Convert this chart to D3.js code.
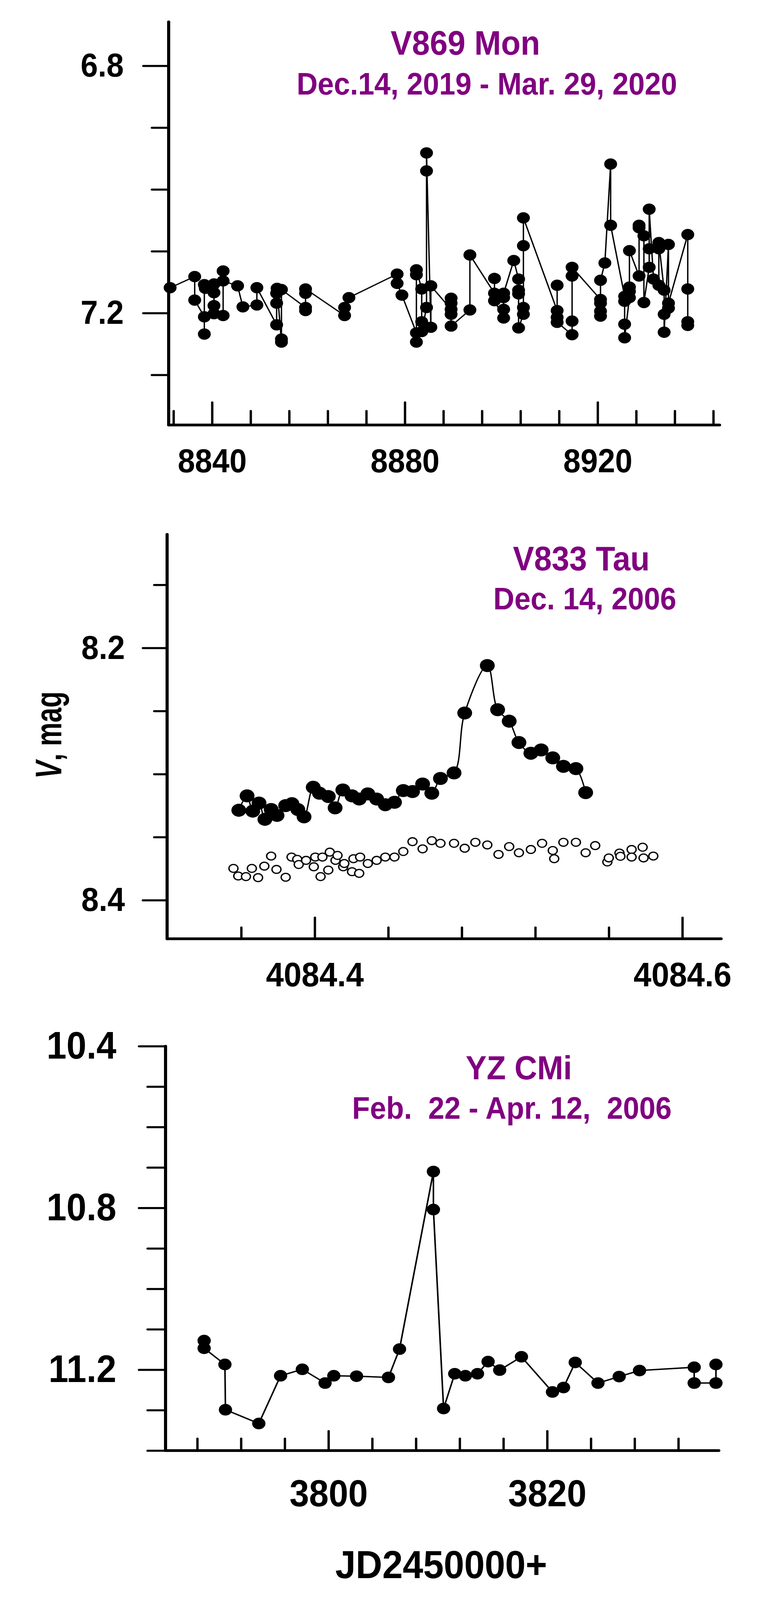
<!DOCTYPE html>
<html lang="en">
<head>
<meta charset="utf-8">
<title>V869 Mon, V833 Tau, YZ CMi light curves</title>
<style>
body{
  margin: 0;
  background: #fff;
  overflow: hidden;
}

svg{
  display: block;
}

text{
  font-family: "Liberation Sans", Arial, sans-serif;
  font-weight: bold;
}

.axis path{
  display: none;
}

.axis line{
  stroke: #000;
  stroke-width: 6;
  stroke-linecap: round;
}

.axis text{
  fill: #000;
}

.spine{
  stroke: #000;
  stroke-width: 8;
  stroke-linecap: round;
}

.title{
  fill: #800080;
  text-anchor: middle;
  white-space: pre;
}
</style>
<script src="https://d3js.org/d3.v7.min.js"></script>
</head>
<body>
<div id="chart"></div>

<script>
/* ---- V869 Mon, JD 2450000+ and V magnitude ---- */
var monDay = [8831.3, 8836.4, 8836.4, 8838.4, 8838.4, 8838.4, 8838.6, 8840.4, 8840.4, 8840.4,
  8840.4, 8842.3, 8842.3, 8842.3, 8845.3, 8846.4, 8849.3, 8849.3, 8853.4, 8853.4,
  8853.4, 8853.5, 8854.4, 8854.4, 8854.4, 8859.4, 8859.4, 8859.4, 8859.4, 8867.5,
  8867.5, 8868.4, 8878.4, 8878.4, 8879.4, 8882.4, 8882.4, 8882.4, 8882.4, 8883.5,
  8883.5, 8883.5, 8884.5, 8884.5, 8884.5, 8885.4, 8885.4, 8889.6, 8889.6, 8889.6,
  8889.6, 8889.6, 8893.5, 8893.5, 8898.6, 8898.6, 8898.6, 8900.5, 8900.5, 8900.5,
  8900.5, 8902.6, 8903.6, 8903.6, 8903.6, 8903.6, 8904.6, 8904.6, 8904.6, 8904.6,
  8911.6, 8911.6, 8911.6, 8911.6, 8914.7, 8914.7, 8914.7, 8914.7, 8920.6, 8920.6,
  8920.6, 8920.6, 8920.6, 8921.5, 8922.7, 8922.7, 8925.6, 8925.6, 8925.6, 8925.6,
  8926.6, 8926.6, 8926.6, 8926.6, 8928.6, 8928.6, 8928.6, 8929.6, 8929.6, 8930.7,
  8930.7, 8930.7, 8931.6, 8932.7, 8932.7, 8932.7, 8933.8, 8933.8, 8933.8, 8934.7,
  8934.7, 8934.7, 8938.7, 8938.7, 8938.7, 8938.7];
var monMag = [7.159, 7.141, 7.179, 7.206, 7.234, 7.154, 7.160, 7.153, 7.167, 7.188,
  7.201, 7.204, 7.132, 7.148, 7.156, 7.190, 7.187, 7.159, 7.219, 7.184,
  7.168, 7.160, 7.247, 7.242, 7.162, 7.191, 7.196, 7.168, 7.161, 7.204,
  7.191, 7.175, 7.137, 7.152, 7.171, 7.232, 7.247, 7.138, 7.130, 7.161,
  7.214, 7.230, 7.191, 6.970, 6.941, 7.223, 7.156, 7.194, 7.176, 7.184,
  7.202, 7.221, 7.195, 7.106, 7.168, 7.144, 7.180, 7.208, 7.194, 7.175,
  7.168, 7.115, 7.145, 7.163, 7.169, 7.224, 7.202, 7.191, 7.091, 7.046,
  7.196, 7.155, 7.207, 7.215, 7.235, 7.213, 7.140, 7.126, 7.178, 7.205,
  7.197, 7.184, 7.147, 7.119, 6.959, 7.058, 7.173, 7.181, 7.218, 7.240,
  7.175, 7.165, 7.158, 7.099, 7.140, 7.062, 7.058, 7.075, 7.183, 7.126,
  7.096, 7.032, 7.145, 7.155, 7.096, 7.086, 7.163, 7.202, 7.231, 7.089,
  7.192, 7.184, 7.073, 7.161, 7.214, 7.220];

/* ---- V833 Tau, flare star (filled) and comparison (open) ---- */
var tauTime = [4084.3587, 4084.3632, 4084.3663, 4084.3697, 4084.3729, 4084.3763, 4084.3795, 4084.3842,
  4084.3876, 4084.3908, 4084.3942, 4084.3992, 4084.4026, 4084.4074, 4084.4111, 4084.4153,
  4084.4203, 4084.4242, 4084.4289, 4084.4337, 4084.4384, 4084.4434, 4084.4482, 4084.4532,
  4084.4587, 4084.4637, 4084.4684, 4084.4758, 4084.4816, 4084.4939, 4084.4995, 4084.5058,
  4084.5111, 4084.5176, 4084.5232, 4084.5295, 4084.5353, 4084.5421, 4084.5474];
var tauMag = [8.3287, 8.3173, 8.3294, 8.3230, 8.3359, 8.3281, 8.3328, 8.3250,
  8.3235, 8.3281, 8.3339, 8.3105, 8.3152, 8.3178, 8.3268, 8.3126,
  8.3173, 8.3198, 8.3157, 8.3198, 8.3243, 8.3224, 8.3131, 8.3139,
  8.3079, 8.3152, 8.3035, 8.2991, 8.2516, 8.2140, 8.2490, 8.2581,
  8.2750, 8.2835, 8.2809, 8.2872, 8.2939, 8.2957, 8.3147];
var tauCompTime = [4084.3558, 4084.3584, 4084.3626, 4084.3658, 4084.3692, 4084.3726, 4084.3763, 4084.3792,
  4084.3842, 4084.3874, 4084.3905, 4084.3913, 4084.3953, 4084.3995, 4084.4003, 4084.4032,
  4084.4042, 4084.4074, 4084.4082, 4084.4113, 4084.4124, 4084.4155, 4084.4161, 4084.4203,
  4084.4211, 4084.4242, 4084.4247, 4084.4289, 4084.4337, 4084.4384, 4084.4434, 4084.4482,
  4084.4532, 4084.4587, 4084.4637, 4084.4684, 4084.4758, 4084.4816, 4084.4874, 4084.4939,
  4084.5000, 4084.5058, 4084.5111, 4084.5176, 4084.5237, 4084.5295, 4084.5303, 4084.5353,
  4084.5421, 4084.5474, 4084.5526, 4084.5592, 4084.5600, 4084.5658, 4084.5663, 4084.5724,
  4084.5724, 4084.5784, 4084.5789, 4084.5842];
var tauCompMag = [8.3748, 8.3808, 8.3813, 8.3748, 8.3821, 8.3730, 8.3650, 8.3756,
  8.3818, 8.3658, 8.3676, 8.3717, 8.3684, 8.3735, 8.3658, 8.3813,
  8.3658, 8.3761, 8.3619, 8.3684, 8.3645, 8.3735, 8.3709, 8.3774,
  8.3671, 8.3787, 8.3658, 8.3709, 8.3684, 8.3658, 8.3658, 8.3614,
  8.3536, 8.3593, 8.3528, 8.3549, 8.3549, 8.3588, 8.3541, 8.3562,
  8.3637, 8.3575, 8.3624, 8.3598, 8.3549, 8.3606, 8.3671, 8.3541,
  8.3541, 8.3624, 8.3567, 8.3697, 8.3665, 8.3626, 8.3652, 8.3598,
  8.3658, 8.3580, 8.3665, 8.3650];

/* ---- YZ CMi ---- */
var cmiDay = [3788.63, 3788.63, 3790.53, 3790.58, 3793.63, 3795.62, 3797.61, 3799.69, 3800.49, 3802.57,
  3805.49, 3806.50, 3809.60, 3809.60, 3810.53, 3811.55, 3812.52, 3813.63, 3814.60, 3815.66,
  3817.65, 3820.49, 3821.50, 3822.57, 3824.65, 3826.59, 3828.45, 3833.45, 3833.45, 3835.44,
  3835.44];
var cmiMag = [11.128, 11.147, 11.187, 11.299, 11.333, 11.215, 11.199, 11.233, 11.215, 11.216,
  11.219, 11.149, 10.710, 10.804, 11.296, 11.210, 11.215, 11.210, 11.180, 11.201,
  11.168, 11.255, 11.244, 11.182, 11.233, 11.217, 11.202, 11.194, 11.233, 11.233,
  11.187];

/* tick values */
var monMajorY = [6.8, 7.2], monMinorY = [6.9, 7.0, 7.1, 7.3];
var monMajorX = [8840, 8880, 8920];
var monMinorX = [8832, 8848, 8856, 8864, 8872, 8888, 8896, 8904, 8912, 8928, 8936, 8944];
var tauMajorY = [8.2, 8.4], tauMinorY = [8.15, 8.25, 8.3, 8.35];
var tauMajorX = [4084.4, 4084.6];
var tauMinorX = [4084.36, 4084.44, 4084.48, 4084.52, 4084.56];
var cmiMajorY = [10.4, 10.8, 11.2], cmiMinorY = [10.5, 10.6, 10.7, 10.9, 11.0, 11.1, 11.3, 11.4];
var cmiMajorX = [3800, 3820];
var cmiMinorX = [3788, 3792, 3796, 3804, 3808, 3812, 3816, 3824, 3828, 3832];

/* the figure is laid out on a 1944 x 4680 sheet; if the window is shorter,
   the sheet is fitted to it so that nothing is cut off at the bottom */
var W = 1944, H = 4680;
var viewH = Math.min(window.innerHeight || H, H);

var svg = d3.select('#chart')
  .append('svg')
  .attr('width', W)
  .attr('height', viewH)
  .attr('viewBox', '0 0 ' + W + ' ' + H)
  .attr('preserveAspectRatio', 'none');

function drawPanel(p) {
  var x = d3.scaleLinear().domain(p.xDomain).range([p.left, p.right]);
  var y = d3.scaleLinear().domain(p.yDomain).range([p.top, p.bottom]);

  // y ticks: minor without labels, major with labels
  svg.append('g').attr('class', 'axis')
    .attr('transform', 'translate(' + p.left + ',0)')
    .call(d3.axisLeft(y).tickValues(p.yMinor).tickSize(p.yMinorLen).tickSizeOuter(0).tickFormat(''));
  svg.append('g').attr('class', 'axis')
    .attr('transform', 'translate(' + p.left + ',0)')
    .call(d3.axisLeft(y).tickValues(p.yMajor).tickSize(p.yMajorLen).tickSizeOuter(0)
      .tickPadding(p.yPad).tickFormat(d3.format('.1f')))
    .selectAll('text').style('font-size', p.yFont + 'px');

  // x ticks point up into the plot, labels below
  svg.append('g').attr('class', 'axis')
    .attr('transform', 'translate(0,' + p.bottom + ')')
    .call(d3.axisBottom(x).tickValues(p.xMinor).tickSize(-p.xMinorLen).tickSizeOuter(0).tickFormat(''));
  svg.append('g').attr('class', 'axis')
    .attr('transform', 'translate(0,' + p.bottom + ')')
    .call(d3.axisBottom(x).tickValues(p.xMajor).tickSize(-p.xMajorLen).tickSizeOuter(0)
      .tickPadding(p.xPad).tickFormat(p.xFormat))
    .selectAll('text').style('font-size', p.xFont + 'px');

  svg.append('line').attr('class', 'spine')
    .attr('x1', p.left).attr('x2', p.left)
    .attr('y1', p.top).attr('y2', p.bottom);
  svg.append('line').attr('class', 'spine')
    .attr('x1', p.left).attr('x2', p.right)
    .attr('y1', p.bottom).attr('y2', p.bottom);

  // titles
  p.titles.forEach(function(t) {
    svg.append('text').attr('class', 'title')
      .attr('x', t.x).attr('y', t.y)
      .style('font-size', t.size + 'px')
      .text(t.text);
  });

  return {x: x, y: y};
}

/* top panel */
var s1 = drawPanel({
  left: 432, right: 1843, top: 64, bottom: 1243,
  xDomain: [8831, 8945.3], yDomain: [6.729, 7.381],
  yMajor: monMajorY, yMinor: monMinorY, yMajorLen: 65, yMinorLen: 43, yPad: 50, yFont: 97,
  xMajor: monMajorX, xMinor: monMinorX, xMajorLen: 66, xMinorLen: 41, xPad: 70, xFont: 97,
  xFormat: d3.format('d'),
  titles: [
    {text: 'V869 Mon', x: 1192, y: 160, size: 100},
    {text: 'Dec.14, 2019 - Mar. 29, 2020', x: 1247, y: 276, size: 91}
  ]
});

svg.append('path')
  .datum(monDay)
  .attr('fill', 'none').attr('stroke', '#000').attr('stroke-width', 3.5)
  .attr('d', d3.line().x(function(d) { return s1.x(d); }).y(function(d, i) { return s1.y(monMag[i]); }));
svg.append('g').selectAll('circle')
  .data(monDay)
  .enter().append('circle')
  .attr('cx', function(d) { return s1.x(d); })
  .attr('cy', function(d, i) { return s1.y(monMag[i]); })
  .attr('r', 16.5)
  .attr('fill', '#000');

/* middle panel */
var s2 = drawPanel({
  left: 428, right: 1847, top: 1563, bottom: 2746,
  xDomain: [4084.3197, 4084.6211], yDomain: [8.110, 8.4306],
  yMajor: tauMajorY, yMinor: tauMinorY, yMajorLen: 62, yMinorLen: 33, yPad: 46, yFont: 98,
  xMajor: tauMajorX, xMinor: tauMinorX, xMajorLen: 62, xMinorLen: 33, xPad: 68, xFont: 100,
  xFormat: d3.format('.1f'),
  titles: [
    {text: 'V833 Tau', x: 1489, y: 1668, size: 99},
    {text: 'Dec. 14, 2006', x: 1498, y: 1783, size: 91}
  ]
});

svg.append('g').selectAll('circle')
  .data(tauCompTime)
  .enter().append('circle')
  .attr('cx', function(d) { return s2.x(d); })
  .attr('cy', function(d, i) { return s2.y(tauCompMag[i]); })
  .attr('r', 11.5)
  .attr('fill', '#fff').attr('stroke', '#000').attr('stroke-width', 3.5);
svg.append('path')
  .datum(tauTime)
  .attr('fill', 'none').attr('stroke', '#000').attr('stroke-width', 3.5)
  .attr('d', d3.line().curve(d3.curveCatmullRom.alpha(0.5))
    .x(function(d) { return s2.x(d); }).y(function(d, i) { return s2.y(tauMag[i]); }));
svg.append('g').selectAll('circle')
  .data(tauTime)
  .enter().append('circle')
  .attr('cx', function(d) { return s2.x(d); })
  .attr('cy', function(d, i) { return s2.y(tauMag[i]); })
  .attr('r', 19)
  .attr('fill', '#000');

var ylab = svg.append('text')
  .attr('transform', 'translate(157,2150) rotate(-90)')
  .attr('text-anchor', 'middle')
  .style('font-size', '95px');
ylab.append('tspan').style('font-style', 'italic').text('V');
ylab.append('tspan').text(', mag');

/* bottom panel */
var s3 = drawPanel({
  left: 424, right: 1841, top: 3060, bottom: 4243,
  xDomain: [3785.1, 3835.7], yDomain: [10.4, 11.4],
  yMajor: cmiMajorY, yMinor: cmiMinorY, yMajorLen: 68, yMinorLen: 46, yPad: 58, yFont: 112,
  xMajor: cmiMajorX, xMinor: cmiMinorX, xMajorLen: 57, xMinorLen: 35, xPad: 85, xFont: 110,
  xFormat: d3.format('d'),
  titles: [
    {text: 'YZ CMi', x: 1329, y: 3157, size: 98},
    {text: 'Feb.  22 - Apr. 12,  2006', x: 1311, y: 3272, size: 91}
  ]
});

svg.append('path')
  .datum(cmiDay)
  .attr('fill', 'none').attr('stroke', '#000').attr('stroke-width', 4)
  .attr('d', d3.line().x(function(d) { return s3.x(d); }).y(function(d, i) { return s3.y(cmiMag[i]); }));
svg.append('g').selectAll('circle')
  .data(cmiDay)
  .enter().append('circle')
  .attr('cx', function(d) { return s3.x(d); })
  .attr('cy', function(d, i) { return s3.y(cmiMag[i]); })
  .attr('r', 17)
  .attr('fill', '#000');

svg.append('text')
  .attr('x', 1130).attr('y', 4616)
  .attr('text-anchor', 'middle')
  .style('font-size', '115px')
  .text('JD2450000+');

// the original lettering is a narrow bold face: squeeze the bold sans to 82% width
var squeeze = 0.82;
svg.selectAll('text').each(function() {
  var t = d3.select(this);
  var x0 = +t.attr('x') || 0;
  var tr = t.attr('transform') || '';
  t.attr('x', x0 / squeeze).attr('transform', (tr + ' scale(' + squeeze + ',1)').trim());
});
</script>
</body>
</html>
